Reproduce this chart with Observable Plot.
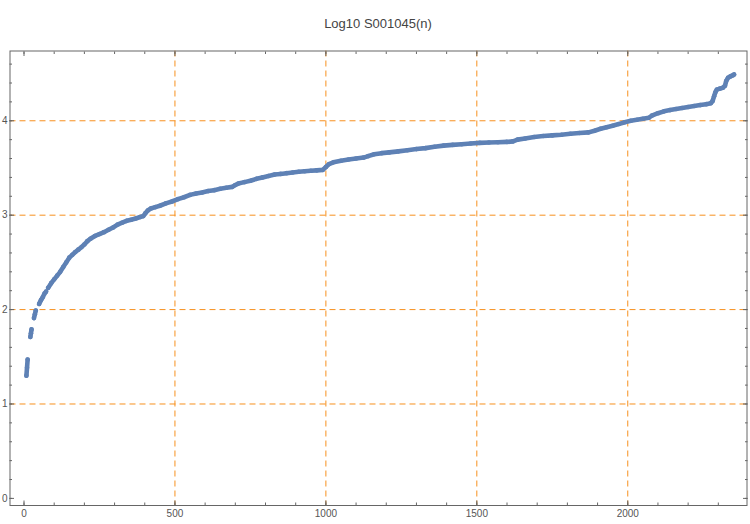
<!DOCTYPE html>
<html><head><meta charset="utf-8">
<script src="https://cdn.jsdelivr.net/npm/d3@7"></script>
<script src="https://cdn.jsdelivr.net/npm/@observablehq/plot@0.6"></script>
<style>
body{margin:0;background:#fff;}
#title{height:36px;box-sizing:border-box;padding:16px 0 0 6px;width:750px;text-align:center;font:13px "Liberation Sans",Arial,sans-serif;line-height:16px;color:#444;}
</style></head><body>
<div id="title">Log10 S001045(n)</div>
<div id="chart"></div>
<script>
const ns = [8,10,12, 21,23,25, 33,36,39, 50,56,62,68,73,
  80,90,100,110,120,130,140,150,160,170,180,190,200,210,220,235,250,265,280,295,310,325,340,355,370,385,395,
  402,410,420,435,450,470,490,510,530,550,570,590,610,630,650,670,690,700,710,730,750,770,790,810,830,850,870,890,910,930,950,970,990,
  1000,1010,1025,1050,1075,1100,1125,1140,1160,1185,1210,1240,1270,1300,1330,1360,1390,1420,1450,1480,1510,1540,1570,1600,1620,1635,1660,1690,1720,1750,1780,1810,1840,1870,1890,1910,1930,1950,1970,1990,
  2010,2030,2050,2070,2080,2100,2120,2140,2160,2180,2200,2220,2240,2260,2275,2281,2286,2290,2295,2305,2315,2322,2326,2332,2340,2347,2352];
const vs = [1.30,1.385,1.47, 1.71,1.75,1.79, 1.91,1.95,1.99, 2.06,2.10,2.13,2.17,2.19,
  2.23,2.28,2.32,2.36,2.40,2.45,2.50,2.55,2.58,2.61,2.635,2.66,2.69,2.725,2.75,2.78,2.80,2.82,2.845,2.87,2.90,2.92,2.94,2.952,2.965,2.98,2.99,
  3.02,3.05,3.07,3.085,3.10,3.125,3.145,3.17,3.19,3.215,3.23,3.24,3.255,3.265,3.28,3.29,3.30,3.32,3.335,3.35,3.365,3.385,3.40,3.415,3.43,3.437,3.445,3.452,3.46,3.466,3.47,3.475,3.48,
  3.51,3.54,3.56,3.577,3.59,3.60,3.61,3.625,3.645,3.657,3.665,3.676,3.688,3.70,3.71,3.725,3.737,3.745,3.752,3.76,3.766,3.77,3.772,3.776,3.782,3.80,3.812,3.828,3.838,3.845,3.852,3.862,3.87,3.877,3.895,3.915,3.932,3.948,3.965,3.985,
  4.0,4.01,4.022,4.032,4.055,4.08,4.10,4.113,4.124,4.135,4.146,4.156,4.166,4.176,4.186,4.21,4.26,4.30,4.33,4.34,4.35,4.37,4.42,4.455,4.47,4.48,4.49];
const segmentStarts = [8, 21, 33, 50, 80];
const xMajorTicks = [0, 500, 1000, 1500, 2000];
const xMinorTicks = [0,100,200,300,400,500,600,700,800,900,1000,1100,1200,1300,1400,1500,1600,1700,1800,1900,2000,2100,2200,2300];
const yMajorTicks = [0, 1, 2, 3, 4];
const yMinorTicks = [0,0.2,0.4,0.6,0.8,1,1.2,1.4,1.6,1.8,2,2.2,2.4,2.6,2.8,3,3.2,3.4,3.6,3.8,4,4.2,4.4,4.6];
const xGrid = [500, 1000, 1500, 2000];
const yGrid = [1, 2, 3, 4];

const data = ns.map((n, i) => ({n, v: vs[i], seg: segmentStarts.filter(s => s <= n).length}));
const blue = "#5E81B5", orange = "#f7901e", frameColor = "#666", textColor = "#555";

const chart = Plot.plot({
  width: 750, height: 488,
  marginTop: 14.5, marginBottom: 19, marginLeft: 9.5, marginRight: 3.5,
  style: {fontFamily: "'Liberation Sans', Arial, sans-serif", fontSize: "10px", background: "#fff", overflow: "visible"},
  x: {domain: [-46.4, 2395]},
  y: {domain: [-0.0752, 4.739]},
  marks: [
    Plot.gridX(xGrid, {stroke: orange, strokeOpacity: 1, strokeWidth: 1, strokeDasharray: "6,4"}),
    Plot.gridY(yGrid, {stroke: orange, strokeOpacity: 1, strokeWidth: 1, strokeDasharray: "6,4"}),
    Plot.line(data, {x: "n", y: "v", z: "seg", stroke: blue, strokeWidth: 4.6, strokeLinecap: "round", strokeLinejoin: "round"}),
    Plot.dot(data, {x: "n", y: "v", r: 2.3, fill: blue, stroke: null}),
    Plot.frame({stroke: frameColor}),
    Plot.axisX(xMinorTicks, {anchor: "bottom", tickSize: -2.5, fill: "none", stroke: frameColor, label: null}),
    Plot.axisX(xMajorTicks, {anchor: "bottom", tickSize: -4.5, fill: "none", stroke: frameColor, label: null}),
    Plot.axisX(xMinorTicks, {anchor: "top", tickSize: -2.5, fill: "none", stroke: frameColor, label: null}),
    Plot.axisX(xMajorTicks, {anchor: "top", tickSize: -4.5, fill: "none", stroke: frameColor, label: null}),
    Plot.axisY(yMinorTicks, {anchor: "left", tickSize: -2.5, fill: "none", stroke: frameColor, label: null}),
    Plot.axisY(yMajorTicks, {anchor: "left", tickSize: -4.5, fill: "none", stroke: frameColor, label: null}),
    Plot.axisY(yMinorTicks, {anchor: "right", tickSize: -2.5, fill: "none", stroke: frameColor, label: null}),
    Plot.axisY(yMajorTicks, {anchor: "right", tickSize: -4.5, fill: "none", stroke: frameColor, label: null}),
    Plot.axisX(xMajorTicks, {anchor: "bottom", tickSize: 0, tickPadding: 4, fill: textColor, fontSize: 10, label: null, tickFormat: d => String(d)}),
    Plot.axisY(yMajorTicks, {anchor: "left", tickSize: 0, tickPadding: 2.5, fill: textColor, fontSize: 10, label: null, tickFormat: d => String(d)})
  ]
});
document.getElementById("chart").appendChild(chart);
</script>
</body></html>
